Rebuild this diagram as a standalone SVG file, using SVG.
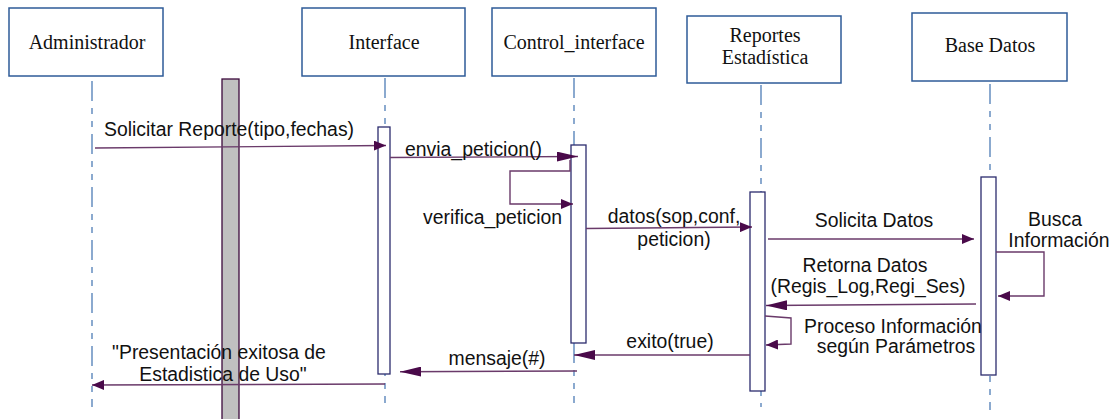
<svg xmlns="http://www.w3.org/2000/svg" width="1120" height="419" viewBox="0 0 1120 419">
<style>
.box{fill:#fff;stroke:#2e5b98;stroke-width:1.5}
.obj{font-family:"Liberation Serif","Times New Roman",serif;font-size:20px;fill:#111;text-anchor:middle}
.life{stroke:#6f95c4;stroke-width:1.6;fill:none;stroke-dasharray:20 7 6 7 6 7}
.act{fill:#fff;stroke:#2c2c6e;stroke-width:1.3}
.msg{stroke:#6a3a6a;stroke-width:1.4;fill:none}
.lbl{font-family:"Liberation Sans",Arial,sans-serif;font-size:19.4px;fill:#111}
.c{text-anchor:middle}
</style>
<defs>
<marker id="ah" viewBox="0 0 12 10" refX="12" refY="5" markerWidth="12" markerHeight="10" markerUnits="userSpaceOnUse" orient="auto">
<path d="M0,0 L12,5 L0,10 Z" fill="#4a0a4a"/>
</marker>
<marker id="ahl" viewBox="0 0 21 10" refX="21" refY="5" markerWidth="21" markerHeight="10" markerUnits="userSpaceOnUse" orient="auto">
<path d="M0,0 L21,5 L0,10 Z" fill="#4a0a4a"/>
</marker>
</defs>

<rect x="222" y="79" width="17" height="345" fill="#c0c0c0" stroke="#3c0a3c" stroke-width="1.3"/>

<g id="administrador">
<rect class="box" x="9" y="8" width="154" height="68"/>
<text class="obj" x="87" y="49">Administrador</text>
<line class="life" x1="92" y1="81" x2="92" y2="407"/>
</g>
<g id="interface">
<rect class="box" x="302" y="8" width="163" height="68"/>
<text class="obj" x="384" y="49">Interface</text>
<line class="life" x1="385" y1="78" x2="385" y2="403"/>
<rect class="act" x="378" y="127" width="12" height="247"/>
</g>
<g id="control_interface">
<rect class="box" x="492" y="8" width="164" height="68"/>
<text class="obj" x="574" y="49">Control_interface</text>
<line class="life" x1="574" y1="78" x2="574" y2="403"/>
<rect class="act" x="571" y="145" width="15" height="198"/>
</g>
<g id="reportes">
<rect class="box" x="687" y="16" width="154" height="67"/>
<text class="obj" x="765" y="42">Reportes</text>
<text class="obj" x="765" y="64">Estadística</text>
<line class="life" x1="761" y1="85" x2="761" y2="407"/>
<rect class="act" x="750" y="192" width="15" height="199"/>
</g>
<g id="base_datos">
<rect class="box" x="912" y="13" width="155" height="68"/>
<text class="obj" x="990" y="52">Base Datos</text>
<line class="life" x1="990" y1="84" x2="990" y2="410"/>
<rect class="act" x="981" y="177" width="15" height="198"/>
</g>

<g id="connectors">
<line class="msg" x1="95" y1="148" x2="386" y2="145.5" marker-end="url(#ah)"/>
<line class="msg" x1="390" y1="157.5" x2="578" y2="156.5" marker-end="url(#ahl)"/>
<path class="msg" d="M570,160 L570,171 L510,171 L510,204 L573,204" marker-end="url(#ah)"/>
<line class="msg" x1="586" y1="228.5" x2="752" y2="227" marker-end="url(#ah)"/>
<line class="msg" x1="768" y1="239" x2="974" y2="239" marker-end="url(#ah)"/>
<path class="msg" d="M996,252 L1044,252 L1044,296 L998,296" marker-end="url(#ah)"/>
<line class="msg" x1="976" y1="304" x2="766" y2="305.5" marker-end="url(#ahl)"/>
<path class="msg" d="M765,316 L791,318 L791,344 L766,345" marker-end="url(#ah)"/>
<line class="msg" x1="750" y1="355" x2="574" y2="355" marker-end="url(#ahl)"/>
<line class="msg" x1="577" y1="371" x2="400" y2="371.7" marker-end="url(#ahl)"/>
<line class="msg" x1="385" y1="384" x2="92" y2="385" marker-end="url(#ah)"/>
</g>

<g id="labels">
<text class="lbl" x="104" y="136">Solicitar Reporte(tipo,fechas)</text>
<text class="lbl" x="405" y="156">envia_peticion()</text>
<text class="lbl" x="423" y="224">verifica_peticion</text>
<text class="lbl c" x="674" y="223">datos(sop,conf,</text>
<text class="lbl c" x="674" y="246">peticion)</text>
<text class="lbl c" x="874" y="227">Solicita Datos</text>
<text class="lbl c" x="1055" y="226">Busca</text>
<text class="lbl c" x="1059" y="247">Información</text>
<text class="lbl c" x="865" y="272">Retorna Datos</text>
<text class="lbl c" x="868" y="293">(Regis_Log,Regi_Ses)</text>
<text class="lbl c" x="893" y="333">Proceso Información</text>
<text class="lbl c" x="896" y="353">según Parámetros</text>
<text class="lbl c" x="670" y="348">exito(true)</text>
<text class="lbl c" x="497" y="365">mensaje(#)</text>
<text class="lbl c" x="219" y="359">"Presentación exitosa de</text>
<text class="lbl c" x="223" y="381">Estadistica de Uso"</text>
</g>
</svg>
